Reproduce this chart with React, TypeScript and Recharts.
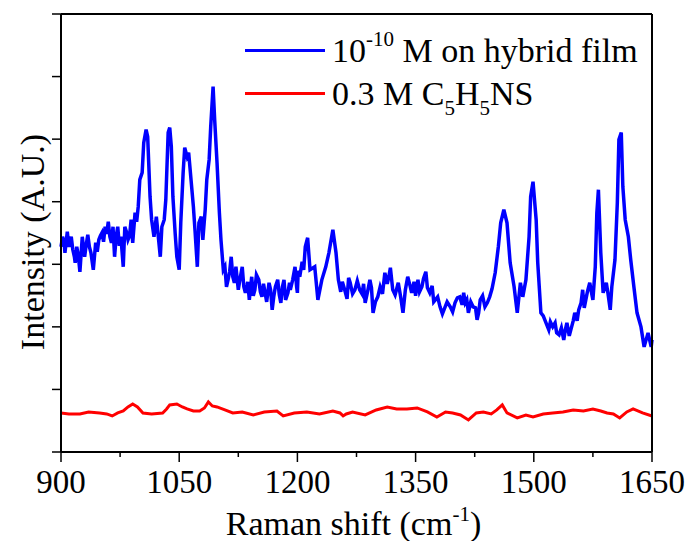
import React from "react";
import { LineChart, Line, XAxis, YAxis, Legend, Label } from "recharts";

// Raman shift (cm-1) and intensity (a.u.)
const filmShift = [
  900, 902, 904, 905, 908, 910, 913, 915, 917, 918,
  920, 922, 924, 927, 930, 932, 934, 936, 938, 941,
  944, 946, 948, 950, 952, 954, 956, 958, 960, 962,
  964, 966, 968, 970, 972, 974, 976, 979, 981, 983,
  985, 987, 989, 991, 994, 996, 998, 1000, 1003, 1005,
  1008, 1010, 1013, 1015, 1018, 1021, 1023, 1026, 1028, 1031,
  1033, 1036, 1038, 1040, 1042, 1045, 1047, 1050, 1052, 1055,
  1057, 1060, 1062, 1065, 1068, 1070, 1073, 1075, 1078, 1080,
  1083, 1085, 1088, 1090, 1093, 1095, 1098, 1101, 1103, 1106,
  1108, 1110, 1112, 1114, 1116, 1118, 1120, 1122, 1125, 1127,
  1130, 1132, 1134, 1137, 1139, 1142, 1144, 1146, 1148, 1151,
  1153, 1155, 1157, 1159, 1161, 1164, 1166, 1168, 1170, 1172,
  1175, 1177, 1179, 1181, 1183, 1185, 1188, 1190, 1191, 1194,
  1197, 1199, 1200, 1201, 1203, 1206, 1208, 1210, 1213, 1216,
  1222, 1226, 1231, 1236, 1240, 1245, 1249, 1252, 1255, 1257,
  1260, 1263, 1265, 1267, 1270, 1273, 1276, 1279, 1282, 1284,
  1286, 1289, 1292, 1294, 1296, 1299, 1302, 1305, 1308, 1311,
  1314, 1316, 1318, 1321, 1324, 1328, 1331, 1334, 1337, 1340,
  1343, 1345, 1348, 1350, 1353, 1355, 1358, 1360, 1363, 1365,
  1368, 1371, 1373, 1375, 1378, 1381, 1384, 1387, 1390, 1394,
  1397, 1400, 1403, 1406, 1409, 1411, 1413, 1415, 1417, 1420,
  1423, 1426, 1428, 1430, 1432, 1435, 1438, 1441, 1444, 1447,
  1451, 1455, 1458, 1462, 1466, 1470, 1475, 1479, 1483, 1486,
  1490, 1494, 1496, 1499, 1503, 1505, 1509, 1512, 1514, 1517,
  1519, 1521, 1524, 1527, 1529, 1532, 1535, 1538, 1540, 1542,
  1545, 1547, 1550, 1552, 1555, 1557, 1560, 1562, 1564, 1566,
  1568, 1571, 1573, 1575, 1578, 1580, 1582, 1585, 1588, 1592,
  1594, 1597, 1599, 1603, 1606, 1608, 1611, 1613, 1616, 1620,
  1623, 1627, 1631, 1636, 1640, 1645, 1649, 1650,
];
const filmIntensity = [
  3280, 3440, 3360, 3184, 3520, 3280, 3440, 3232, 3120, 3024,
  3280, 3136, 2880, 3440, 3120, 3312, 3472, 3280, 3184, 2912,
  3344, 3200, 3392, 3456, 3504, 3360, 3600, 3488, 3680, 3440,
  3344, 3600, 3120, 3440, 3600, 3296, 3440, 2960, 3600, 3520,
  3392, 3456, 3712, 3344, 3824, 3680, 3920, 4352, 4464, 4944,
  5152, 5040, 4080, 3712, 3440, 3760, 3504, 3120, 3600, 3712,
  4032, 5104, 5184, 4880, 4080, 3472, 3120, 2912, 3664, 4464,
  4864, 4720, 4784, 4352, 3920, 3552, 2960, 3664, 3760, 3392,
  3872, 4352, 4672, 5200, 5840, 5312, 4624, 3824, 3392, 2912,
  2960, 2640, 2752, 2880, 3120, 2800, 2704, 2960, 2592, 2752,
  2960, 2640, 2544, 2720, 2432, 2800, 2496, 2592, 2832, 2752,
  2560, 2480, 2688, 2544, 2400, 2704, 2592, 2272, 2480, 2640,
  2752, 2512, 2384, 2640, 2752, 2432, 2544, 2704, 2592, 2752,
  2960, 2640, 2544, 2896, 2800, 3040, 2912, 3280, 3424, 2912,
  2960, 2432, 2752, 2960, 3184, 3552, 3184, 2752, 2560, 2720,
  2592, 2448, 2784, 2704, 2528, 2592, 2736, 2592, 2528, 2688,
  2384, 2560, 2752, 2624, 2224, 2400, 2480, 2640, 2528, 2864,
  2688, 2800, 2944, 2592, 2512, 2704, 2480, 2224, 2592, 2800,
  2656, 2544, 2720, 2496, 2752, 2560, 2640, 2768, 2880, 2624,
  2544, 2656, 2400, 2432, 2480, 2320, 2208, 2304, 2400, 2320,
  2240, 2384, 2464, 2480, 2352, 2544, 2384, 2432, 2224, 2400,
  2320, 2304, 2112, 2224, 2432, 2496, 2320, 2384, 2480, 2608,
  2864, 3280, 3664, 3872, 3664, 3024, 2640, 2224, 2704, 2480,
  2752, 3440, 4080, 4320, 3712, 3024, 2224, 2176, 2112, 2016,
  1952, 2080, 2000, 2064, 1904, 1872, 1984, 1792, 1952, 2064,
  1856, 1952, 2096, 2224, 2096, 2272, 2384, 2592, 2304, 2432,
  2560, 2704, 2560, 2432, 2960, 3824, 4192, 3184, 2544, 2704,
  2544, 2272, 2640, 3072, 3984, 4992, 5104, 4240, 3712, 3440,
  3072, 2640, 2224, 2000, 1680, 1904, 1680, 1792,
];

const solutionShift = [
  900, 910, 924, 935, 949, 958, 965, 972, 979, 985, 991, 997, 1004, 1015, 1029, 1034, 1038, 1047, 1054, 1060,
  1068, 1076, 1082, 1087, 1092, 1098, 1108, 1118, 1130, 1144, 1158, 1174, 1182, 1196, 1212, 1228, 1245, 1254, 1258, 1262,
  1270, 1286, 1300, 1314, 1326, 1339, 1352, 1365, 1377, 1388, 1397, 1407, 1417, 1427, 1436, 1446, 1453, 1460, 1466, 1479,
  1490, 1499, 1512, 1524, 1537, 1550, 1563, 1575, 1585, 1593, 1601, 1609, 1618, 1626, 1638, 1650,
];
const solutionIntensity = [
  624, 608, 608, 640, 624, 608, 576, 624, 656, 720, 768, 720, 624, 608, 624, 688, 752, 768, 720, 688,
  656, 656, 704, 800, 736, 720, 672, 624, 640, 592, 640, 656, 576, 624, 640, 608, 656, 624, 576, 608,
  640, 592, 672, 720, 688, 688, 704, 640, 560, 640, 624, 592, 512, 624, 640, 608, 672, 752, 624, 544,
  592, 560, 608, 624, 640, 672, 656, 688, 656, 624, 608, 544, 640, 688, 624, 576,
];

const shiftTicks = [900, 975, 1050, 1125, 1200, 1275, 1350, 1425, 1500, 1575, 1650];
const intensityTicks = [0, 1000, 2000, 3000, 4000, 5000, 6000, 7000];

const film = filmShift.map((w, i) => ({ w, v: filmIntensity[i] }));
const solution = solutionShift.map((w, i) => ({ w, v: solutionIntensity[i] }));

const serif = "'Liberation Serif', 'Times New Roman', serif";

const BottomTick = (props: any) => {
  const { x, y, payload } = props;
  const major = (payload.value - 900) % 150 === 0;
  return (
    <g>
      <line x1={x} x2={x} y1={y} y2={y + (major ? 10 : 5)} stroke="#000" strokeWidth={1.5} />
      {major && (
        <text x={x} y={y + 41} textAnchor="middle" fontSize={33} fontFamily={serif} fill="#000">
          {payload.value}
        </text>
      )}
    </g>
  );
};

const XTitle = (props: any) => {
  const { x, y, width } = props.viewBox;
  return (
    <text x={x + width / 2 - 3} y={y + 83} textAnchor="middle" fontSize={34} fontFamily={serif} fill="#000">
      Raman shift (cm
      <tspan fontSize={21} dy={-14}>-1</tspan>
      <tspan dy={14}>)</tspan>
    </text>
  );
};

const YTitle = (props: any) => {
  const { x, y, height } = props.viewBox;
  const cx = x + 44;
  const cy = y + height / 2 + 9;
  return (
    <text
      x={cx}
      y={cy}
      transform={`rotate(-90, ${cx}, ${cy})`}
      textAnchor="middle"
      fontSize={34}
      fontFamily={serif}
      fill="#000"
    >
      Intensity (A.U.)
    </text>
  );
};

const LegendBox = () => (
  <div style={{ position: "relative", width: 420, height: 110, fontFamily: serif, fontSize: 34, color: "#000", lineHeight: 1 }}>
    <div style={{ position: "absolute", left: 0, top: 18.5, width: 80, height: 3, background: "#0000ff" }} />
    <div style={{ position: "absolute", left: 87, top: 4, whiteSpace: "nowrap" }}>
      10<span style={{ fontSize: 21, position: "relative", top: -16 }}>-10</span> M on hybrid film
    </div>
    <div style={{ position: "absolute", left: 0, top: 61.5, width: 80, height: 3, background: "#ff0000" }} />
    <div style={{ position: "absolute", left: 87, top: 47, whiteSpace: "nowrap" }}>
      0.3 M C<span style={{ fontSize: 21, position: "relative", top: 10 }}>5</span>H
      <span style={{ fontSize: 21, position: "relative", top: 10 }}>5</span>NS
    </div>
  </div>
);

export default function App() {
  return (
    <div style={{ position: "absolute", left: 0, top: 0, fontFamily: serif }}>
      <LineChart width={691} height={541} margin={{ top: 14, right: 39, left: 0, bottom: 0 }}>
        <XAxis
          dataKey="w"
          type="number"
          domain={[900, 1650]}
          ticks={shiftTicks}
          interval={0}
          height={89}
          tickSize={0}
          tickMargin={0}
          tickLine={false}
          axisLine={{ stroke: "#000", strokeWidth: 2 }}
          tick={<BottomTick />}
        >
          <Label content={<XTitle />} />
        </XAxis>
        <XAxis
          xAxisId="top"
          orientation="top"
          mirror
          type="number"
          domain={[900, 1650]}
          ticks={shiftTicks}
          interval={0}
          height={4}
          tickSize={4}
          tickFormatter={() => ""}
          tickLine={{ stroke: "#000", strokeWidth: 1.5 }}
          axisLine={{ stroke: "#000", strokeWidth: 2 }}
        />
        <YAxis
          type="number"
          domain={[0, 7000]}
          ticks={intensityTicks}
          interval={0}
          width={61}
          tickSize={9}
          tickFormatter={() => ""}
          tickLine={{ stroke: "#000", strokeWidth: 1.5 }}
          axisLine={{ stroke: "#000", strokeWidth: 2 }}
        >
          <Label content={<YTitle />} />
        </YAxis>
        <YAxis
          yAxisId="right"
          orientation="right"
          mirror
          type="number"
          domain={[0, 7000]}
          ticks={intensityTicks}
          interval={0}
          width={4}
          tickSize={4}
          tickFormatter={() => ""}
          tickLine={{ stroke: "#000", strokeWidth: 1.5 }}
          axisLine={{ stroke: "#000", strokeWidth: 2 }}
        />
        <Legend
          layout="horizontal"
          verticalAlign="middle"
          align="center"
          wrapperStyle={{ top: 30, left: 245, width: 420 }}
          content={() => <LegendBox />}
        />
        <Line
          data={solution}
          dataKey="v"
          name="0.3 M C5H5NS"
          stroke="#ff0000"
          strokeWidth={3}
          dot={false}
          isAnimationActive={false}
        />
        <Line
          data={film}
          dataKey="v"
          name="10-10 M on hybrid film"
          stroke="#0000ff"
          strokeWidth={3.5}
          dot={false}
          isAnimationActive={false}
        />
      </LineChart>
    </div>
  );
}
